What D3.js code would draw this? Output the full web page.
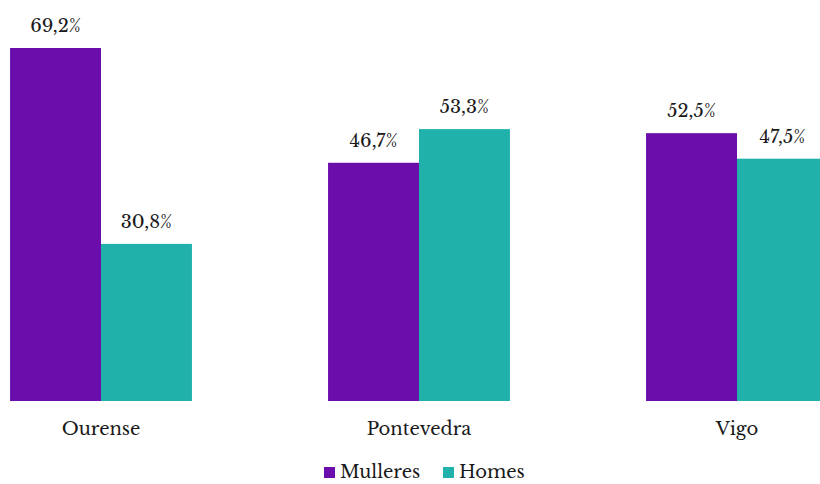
<!DOCTYPE html>
<html>
<head>
<meta charset="utf-8">
<script src="https://cdn.jsdelivr.net/npm/d3@7"></script>
<style>
  body { margin: 0; background: #fff; }
</style>
</head>
<body>
<svg id="chart" width="820" height="484"></svg>
<script>
// Data
const categories = ["Ourense", "Pontevedra", "Vigo"];
const seriesNames = ["Mulleres", "Homes"];
const mulleres = [69.2, 46.7, 52.5];
const homes = [30.8, 53.3, 47.5];
const colors = ["#6a0dab", "#20b2aa"];

const font = `"Libre Baskerville"`;

const svg = d3.select("#chart");
const baseline = 401;

// chart runs off the right edge, same as the original
const x = d3.scaleBand()
  .domain(categories)
  .range([-58, 896])
  .paddingInner(0.428)
  .paddingOuter(0.214);

const xs = d3.scaleBand()
  .domain(seriesNames)
  .range([0, x.bandwidth()]);

const y = d3.scaleLinear()
  .domain([0, 69.2])
  .range([baseline, 48]);

const rows = categories.map((c, i) => ({
  cat: c,
  vals: [
    { name: seriesNames[0], v: mulleres[i] },
    { name: seriesNames[1], v: homes[i] }
  ]
}));

const groups = svg.selectAll("g.group")
  .data(rows)
  .join("g")
  .attr("class", "group")
  .attr("transform", d => `translate(${x(d.cat)},0)`);

groups.selectAll("rect")
  .data(d => d.vals)
  .join("rect")
  .attr("x", d => xs(d.name))
  .attr("y", d => y(d.v))
  .attr("width", xs.bandwidth())
  .attr("height", d => baseline - y(d.v))
  .attr("fill", (d, i) => colors[i]);

groups.selectAll("text.val")
  .data(d => d.vals)
  .join("text")
  .attr("class", "val")
  .attr("x", d => xs(d.name) + xs.bandwidth() / 2)
  .attr("y", d => y(d.v) - 16)
  .attr("text-anchor", "middle")
  .attr("fill", "#1a1a1a")
  .style("font-family", font)
  .style("font-size", "18px")
  .text(d => d.v.toFixed(1).replace(".", ",") + "%");

// category labels
svg.selectAll("text.cat")
  .data(categories)
  .join("text")
  .attr("class", "cat")
  .attr("x", d => x(d) + x.bandwidth() / 2)
  .attr("y", 435)
  .attr("text-anchor", "middle")
  .attr("fill", "#1a1a1a")
  .style("font-family", font)
  .style("font-size", "18px")
  .text(d => d);

// legend
const legend = svg.append("g").attr("transform", "translate(324,478)");
const legendX = [0, 119];
seriesNames.forEach((s, i) => {
  legend.append("rect")
    .attr("x", legendX[i])
    .attr("y", -11)
    .attr("width", 11)
    .attr("height", 11)
    .attr("fill", colors[i]);
  legend.append("text")
    .attr("x", legendX[i] + 16)
    .attr("y", 0)
    .attr("fill", "#1a1a1a")
    .style("font-family", font)
    .style("font-size", "18px")
    .text(s);
});
</script>
</body>
</html>
